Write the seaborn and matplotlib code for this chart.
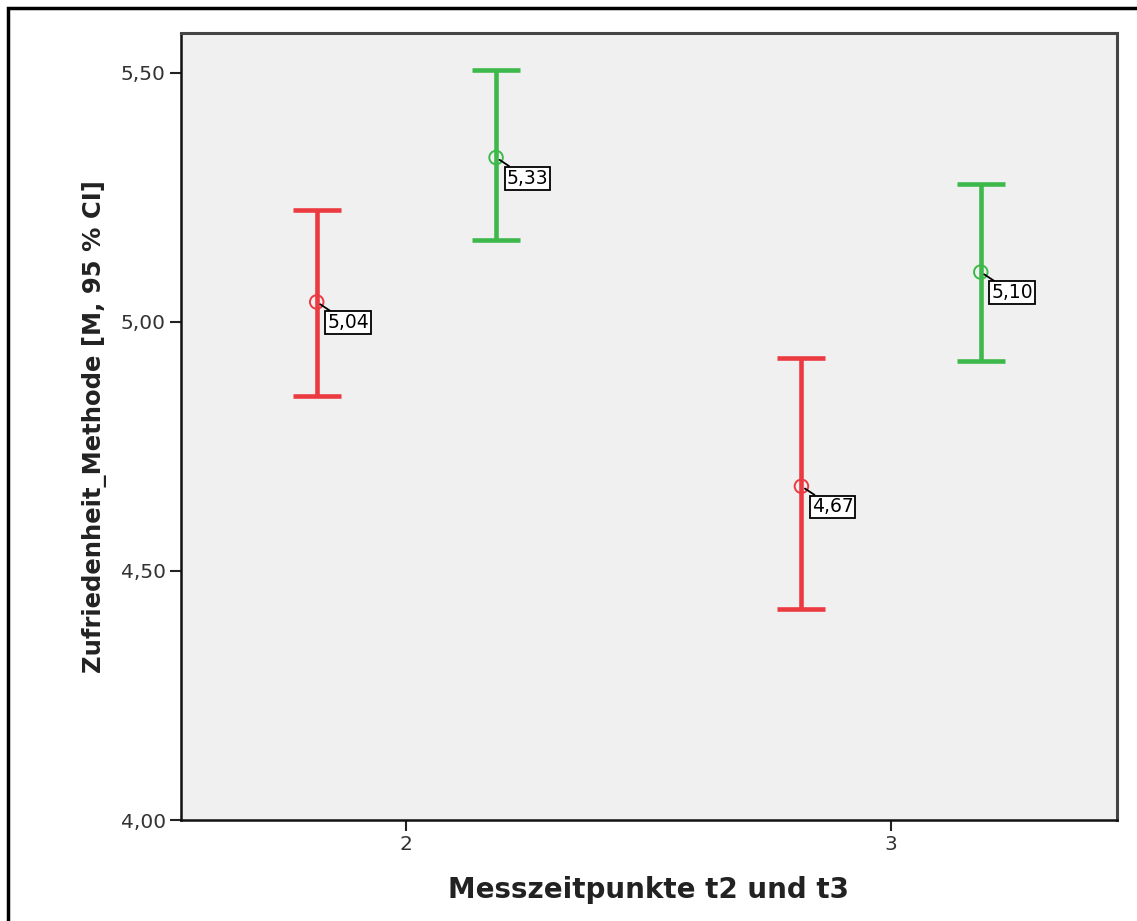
import matplotlib
matplotlib.use("Agg")
import matplotlib.pyplot as plt
import seaborn as sns
import pandas as pd
from matplotlib.patches import Rectangle

# Data
timepoints = [2, 2, 3, 3]
groups = ["A", "B", "A", "B"]
means = [5.04, 5.33, 4.67, 5.10]
ci_low = [4.851, 5.165, 4.424, 4.922]
ci_high = [5.225, 5.506, 4.928, 5.277]
mean_labels = ["5,04", "5,33", "4,67", "5,10"]
ytick_vals = [4.0, 4.5, 5.0, 5.5]
ytick_labels = ["4,00", "4,50", "5,00", "5,50"]
xtick_vals = [2, 3]
xtick_labels = ["2", "3"]

palette = {"A": "#eb3a40", "B": "#3cb94a"}
offsets = {"A": -0.185, "B": 0.185}

df = pd.DataFrame({"t": timepoints, "g": groups, "m": means,
                   "lo": ci_low, "hi": ci_high, "lab": mean_labels})
df["x"] = df["t"] + df["g"].map(offsets)

sns.set_theme(style="white")
plt.rcParams['font.family'] = ['DejaVu Sans']

fig = plt.figure(figsize=(11.37, 9.21), dpi=100)
ax = fig.add_axes([181/1137, 1 - 820/921, (1117-181)/1137, (820-33)/921])
ax.set_facecolor("#f0f0f0")

for _, r in df.iterrows():
    ax.errorbar(r["x"], r["m"], yerr=[[r["m"] - r["lo"]], [r["hi"] - r["m"]]],
                fmt="none", ecolor=palette[r["g"]], elinewidth=3.3,
                capsize=17.5, capthick=3.3, zorder=2)

sns.scatterplot(data=df, x="x", y="m", hue="g", palette=palette, ax=ax,
                marker="o", s=95, linewidth=1.4,
                legend=False, zorder=3)
coll = ax.collections[-1]
coll.set_facecolor("none")
coll.set_edgecolor([palette[g] for g in df["g"]])

for _, r in df.iterrows():
    ax.annotate(r["lab"], xy=(r["x"], r["m"]), xytext=(7.5, -8),
                textcoords="offset points", fontsize=13.5, color="black",
                ha="left", va="top",
                bbox=dict(boxstyle="square,pad=0.1", fc="white", ec="black", lw=1.3),
                arrowprops=dict(arrowstyle="-", color="black", lw=1.3,
                                shrinkA=0, shrinkB=3),
                zorder=4)

ax.set_xlim(1.535, 3.466)
ax.set_ylim(4.0, 5.58)
ax.set_yticks(ytick_vals)
ax.set_yticklabels(ytick_labels, fontsize=14.5, color="#333333")
ax.set_xticks(xtick_vals)
ax.set_xticklabels(xtick_labels, fontsize=14.5, color="#333333")
ax.tick_params(axis="both", direction="out", length=8, width=1.5, color="#222222",
               left=True, bottom=True, pad=3)

for side in ["left", "bottom"]:
    ax.spines[side].set_color("#111111")
    ax.spines[side].set_linewidth(1.8)
for side in ["top", "right"]:
    ax.spines[side].set_color("#444444")
    ax.spines[side].set_linewidth(2.2)

ax.set_ylabel("Zufriedenheit_Methode [M, 95 % CI]", fontsize=17.5, fontweight="bold",
              labelpad=10, color="#222222")
ax.set_xlabel("Messzeitpunkte t2 und t3", fontsize=20, fontweight="bold", labelpad=16,
              color="#222222")

# outer frame
fig.patches.append(Rectangle((8/1137, -0.05), 1.1, 1 - 8/921 + 0.05,
                             transform=fig.transFigure, fill=False,
                             ec="black", lw=2.5))

fig.savefig("out.png", dpi=100)
